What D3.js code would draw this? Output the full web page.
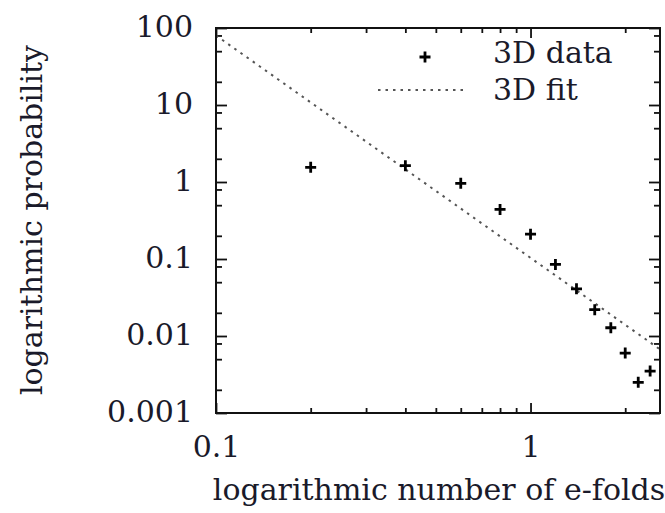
<!DOCTYPE html>
<html>
<head>
<meta charset="utf-8">
<script src="https://cdn.jsdelivr.net/npm/d3@7"></script>
<style>
  body { margin: 0; background: #fff; }
  text { font-family: "DejaVu Serif", serif; fill: #1a1a2a; }
</style>
</head>
<body>
<script>
var w = 665,
    h = 513;

// 3D data
var xVals = [0.2, 0.4, 0.6, 0.8, 1.0, 1.2, 1.4, 1.6, 1.8, 2.0, 2.2, 2.4];
var yVals = [1.55, 1.63, 0.96, 0.44, 0.21, 0.085, 0.041, 0.022, 0.0128, 0.006, 0.0025, 0.0035];

// 3D fit, straight line on log-log axes: end points
var fitX = [0.1, 2.58];
var fitY = [80, 0.0067];

var xMajor = [0.1, 1];
var xMinor = [0.2, 0.3, 0.4, 0.5, 0.6, 0.7, 0.8, 0.9, 2];
var yMajor = [0.001, 0.01, 0.1, 1, 10, 100];
var yMinor = [0.002, 0.005, 0.008, 0.02, 0.05, 0.08, 0.2, 0.5, 0.8, 2, 5, 8, 20, 50, 80];
var yTickLabels = ["0.001", "0.01", "0.1", "1", "10", "100"];
var xTickLabels = ["0.1", "1"];

var pLeft = 216, pRight = 660, pTop = 28, pBottom = 413;

var x = d3.scaleLog().domain([0.1, 2.58]).range([pLeft, pRight]);
var y = d3.scaleLog().domain([0.001, 100]).range([pBottom, pTop]);

var svg = d3.select("body")
          .append("svg")
          .attr("width", w)
          .attr("height", h);

function tidy(g) {
  g.select(".domain").remove();
  g.selectAll(".tick line").attr("stroke", "#111").attr("stroke-width", 1.8);
  g.selectAll(".tick text").attr("font-size", 30).attr("fill", "#1a1a2a");
}

// bottom
svg.append("g").attr("transform", "translate(0," + pBottom + ")")
  .call(d3.axisBottom(x).tickValues(xMajor).tickSize(-10).tickPadding(23)
        .tickFormat(function(d, i) { return xTickLabels[i]; }))
  .call(tidy);
svg.append("g").attr("transform", "translate(0," + pBottom + ")")
  .call(d3.axisBottom(x).tickValues(xMinor).tickSize(-5).tickFormat(""))
  .call(tidy);
// top
svg.append("g").attr("transform", "translate(0," + pTop + ")")
  .call(d3.axisTop(x).tickValues(xMajor).tickSize(-10).tickFormat(""))
  .call(tidy);
svg.append("g").attr("transform", "translate(0," + pTop + ")")
  .call(d3.axisTop(x).tickValues(xMinor).tickSize(-5).tickFormat(""))
  .call(tidy);
// left
svg.append("g").attr("transform", "translate(" + pLeft + ",0)")
  .call(d3.axisLeft(y).tickValues(yMajor).tickSize(-11).tickPadding(23)
        .tickFormat(function(d, i) { return yTickLabels[i]; }))
  .call(tidy)
  .selectAll(".tick text").attr("dy", "0.28em");
svg.append("g").attr("transform", "translate(" + pLeft + ",0)")
  .call(d3.axisLeft(y).tickValues(yMinor).tickSize(-6).tickFormat(""))
  .call(tidy);
// right
svg.append("g").attr("transform", "translate(" + pRight + ",0)")
  .call(d3.axisRight(y).tickValues(yMajor).tickSize(-11).tickFormat(""))
  .call(tidy);
svg.append("g").attr("transform", "translate(" + pRight + ",0)")
  .call(d3.axisRight(y).tickValues(yMinor).tickSize(-6).tickFormat(""))
  .call(tidy);

// fit line
svg.append("clipPath").attr("id", "clip")
  .append("rect").attr("x", pLeft).attr("y", pTop)
  .attr("width", pRight - pLeft).attr("height", pBottom - pTop);

var line = d3.line()
  .x(function(d) { return x(d[0]); })
  .y(function(d) { return y(d[1]); });

svg.append("path")
  .datum(d3.zip(fitX, fitY))
  .attr("d", line)
  .attr("clip-path", "url(#clip)")
  .attr("fill", "none")
  .attr("stroke", "#555")
  .attr("stroke-width", 2)
  .attr("stroke-dasharray", "2.5,5");

// data points
function plus(sel, s) {
  sel.append("path")
    .attr("d", "M" + (-s) + ",0H" + s + "M0," + (-s) + "V" + s)
    .attr("stroke", "#000")
    .attr("stroke-width", 2.8)
    .attr("fill", "none");
}

svg.selectAll(".pt")
  .data(d3.zip(xVals, yVals))
  .enter().append("g")
  .attr("class", "pt")
  .attr("transform", function(d) { return "translate(" + x(d[0]) + "," + y(d[1]) + ")"; })
  .call(plus, 5.5);

// frame
svg.append("rect")
  .attr("x", pLeft).attr("y", pTop)
  .attr("width", pRight - pLeft).attr("height", pBottom - pTop)
  .attr("fill", "none")
  .attr("stroke", "#111")
  .attr("stroke-width", 2);

// legend
var lg = svg.append("g");
lg.append("g").attr("transform", "translate(425,57)").call(plus, 5.5);
lg.append("text").attr("x", 493).attr("y", 63).attr("font-size", 30).text("3D data");
lg.append("line")
  .attr("x1", 378).attr("x2", 468).attr("y1", 90).attr("y2", 90)
  .attr("stroke", "#555").attr("stroke-width", 2).attr("stroke-dasharray", "2.5,5");
lg.append("text").attr("x", 493).attr("y", 100).attr("font-size", 30).text("3D fit");

// axis titles
svg.append("text")
  .attr("x", 439).attr("y", 500)
  .attr("text-anchor", "middle")
  .attr("font-size", 30)
  .text("logarithmic number of e-folds");

svg.append("text")
  .attr("transform", "translate(42,220) rotate(-90)")
  .attr("text-anchor", "middle")
  .attr("font-size", 30)
  .text("logarithmic probability");
</script>
</body>
</html>
